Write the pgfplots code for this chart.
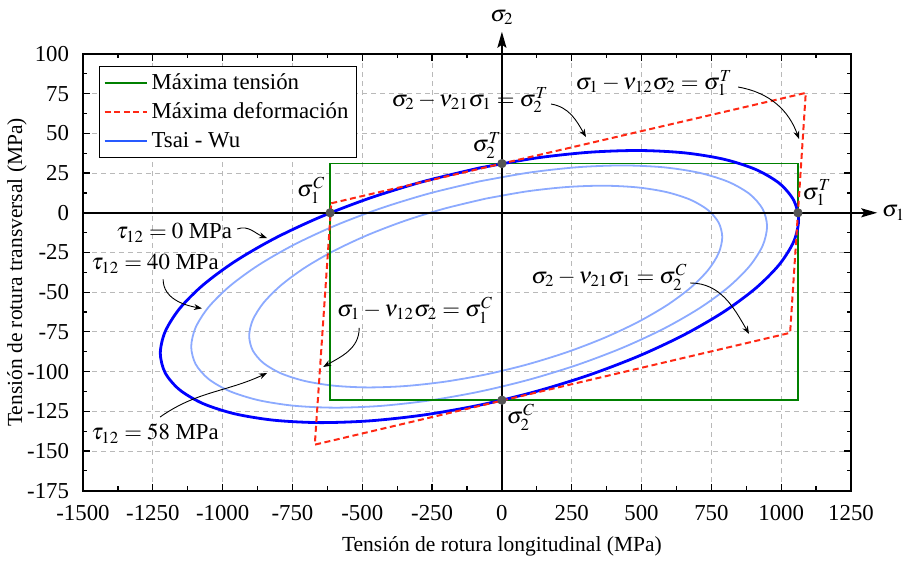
\documentclass[border=0pt]{standalone}
\usepackage{mathptmx}
\usepackage{fontspec}
\setmainfont{Liberation Serif}
\usepackage{pgfplots}
\pgfplotsset{compat=1.18}
\usetikzlibrary{arrows.meta}
\definecolor{cgreen}{RGB}{0,128,0}
\definecolor{cred}{RGB}{255,40,20}
\definecolor{cblue}{RGB}{0,0,255}
\definecolor{clblue}{RGB}{140,170,255}
\definecolor{clegblue}{RGB}{40,90,255}
\definecolor{cmark}{RGB}{85,85,85}
\definecolor{cgrid}{RGB}{185,185,185}
\begin{document}
\fontsize{11.4bp}{13.7bp}\selectfont
\begin{tikzpicture}
\begin{axis}[
  at={(0,0)}, anchor=south west,
  scale only axis, width=384bp, height=218.35bp,
  xmin=-1500, xmax=1250, ymin=-175, ymax=100,
  xtick={-1500,-1250,...,1250}, ytick={-175,-150,...,100},
  minor x tick num=1, minor y tick num=1,
  tick align=inside,
  major tick length=3.5bp, minor tick length=2.2bp,
  grid=major,
  major grid style={cgrid, dash pattern=on 2.5bp off 2bp, line width=0.45bp},
  axis line style={line width=0.8bp},
  tick style={black, line width=0.6bp},
  /pgf/number format/assume math mode=true,
  /pgf/number format/1000 sep={},
  yticklabel style={xshift=-3bp},
  xticklabel style={yshift=-3.5bp},
  clip=false,
  legend cell align=left,
  legend style={at={(0.0208,0.9732)}, anchor=north west, draw=black, line width=0.6bp,
    fill=white, inner xsep=2bp, inner ysep=1.5bp, row sep=1bp,
    font=\fontsize{11.4bp}{13.7bp}\selectfont},
  legend image code/.code={\draw[#1] (0bp,0bp) -- (21bp,0bp);},
]
\addlegendimage{cgreen, line width=0.9bp}
\addlegendentry{Máxima tensión}
\addlegendimage{cred, line width=1bp, dash pattern=on 3bp off 1.8bp}
\addlegendentry{Máxima deformación}
\addlegendimage{clegblue, line width=1bp}
\addlegendentry{Tsai - Wu}

% Tsai-Wu, tau12 = 40 MPa
\addplot[forget plot, smooth, clblue, line width=0.9bp] coordinates {
(-81.5,19.75) (-260.5,12.17) (-434.1,2.80) (-597.0,-8.06) (-744.2,-20.08) (-871.3,-32.91) (-974.4,-46.15) (-1050.3,-59.40) (-1096.8,-72.26) (-1112.5,-84.33) (-1096.8,-95.25) (-1050.3,-104.68) (-974.4,-112.35) (-871.3,-118.02) (-744.2,-121.51) (-597.0,-122.72) (-434.1,-121.61) (-260.5,-118.22) (-81.5,-112.65) (97.5,-105.07) (271.1,-95.70) (434.0,-84.84) (581.2,-72.82) (708.3,-59.99) (811.4,-46.75) (887.3,-33.50) (933.8,-20.65) (949.5,-8.57) (933.8,2.35) (887.3,11.78) (811.4,19.45) (708.3,25.12) (581.2,28.61) (434.0,29.82) (271.1,28.71) (97.5,25.32) (-81.5,19.75)
};
% Tsai-Wu, tau12 = 58 MPa
\addplot[forget plot, smooth, clblue, line width=0.9bp] coordinates {
(-58,8.92) (-205.1,2.68) (-347.7,-5.06) (-481.5,-14.06) (-602.4,-24.04) (-706.8,-34.70) (-791.5,-45.71) (-853.9,-56.75) (-892.1,-67.48) (-905.0,-77.57) (-892.1,-86.71) (-853.9,-94.63) (-791.5,-101.08) (-706.8,-105.88) (-602.4,-108.87) (-481.5,-109.96) (-347.7,-109.12) (-205.1,-106.38) (-58,-101.82) (89.1,-95.58) (231.7,-87.84) (365.5,-78.84) (486.4,-68.86) (590.8,-58.21) (675.5,-47.19) (737.9,-36.15) (776.1,-25.42) (789.0,-15.33) (776.1,-6.19) (737.9,1.73) (675.5,8.18) (590.8,12.98) (486.4,15.97) (365.5,17.06) (231.7,16.22) (89.1,13.48) (-58,8.92)
};
% Maxima tension
\addplot[forget plot, cgreen, line width=0.9bp, line join=miter] coordinates {
(-615,-118) (-615,31) (1060,31) (1060,-118) (-615,-118) (-615,31)
};
% Tsai-Wu, tau12 = 0
\addplot[forget plot, smooth, cblue, line width=1.4bp] coordinates {
(-80.4,28.23) (-278.9,19.81) (-471.3,9.37) (-651.8,-2.77) (-815.0,-16.23) (-955.8,-30.61) (-1070.1,-45.47) (-1154.3,-60.36) (-1205.8,-74.83) (-1223.2,-88.43) (-1205.8,-100.76) (-1154.3,-111.44) (-1070.1,-120.15) (-955.8,-126.62) (-815.0,-130.64) (-651.8,-132.12) (-471.3,-130.99) (-278.9,-127.29) (-80.4,-121.13) (118.0,-112.71) (310.5,-102.27) (491.0,-90.13) (654.2,-76.67) (795.0,-62.29) (909.3,-47.43) (993.5,-32.54) (1045.0,-18.07) (1062.4,-4.47) (1045.0,7.86) (993.5,18.54) (909.3,27.25) (795.0,33.72) (654.2,37.74) (491.0,39.22) (310.5,38.09) (118.0,34.39) (-80.4,28.23)
};
% Maxima deformacion
\addplot[forget plot, cred, line width=1bp, dash pattern=on 3bp off 1.8bp, line join=miter] coordinates {
(-611,6) (1088,75.5) (1032,-75.6) (-670,-146) (-611,6)
};

% coordinate axes
\draw[line width=0.8bp, -{Stealth[length=8bp,width=4.5bp,inset=1.5bp]}] (axis cs:-1500,0) -- (axis cs:1344,0)
  node[right=2bp, inner sep=0pt] {$\sigma_1$};
\draw[line width=0.8bp, -{Stealth[length=8bp,width=4.5bp,inset=1.5bp]}] (axis cs:0,-175) -- (axis cs:0,114)
  node[above=3bp, inner sep=0pt] {$\sigma_2$};

% strength points
\addplot[forget plot, only marks, mark=*, mark size=2.1bp, color=cmark] coordinates {
(-615,0) (0,31) (0,-118) (1060,0)
};
\node at (axis cs:-683,14.3) {$\sigma_1^C$};
\node at (axis cs:-53,42.6) {$\sigma_2^T$};
\node at (axis cs:1128,12.5) {$\sigma_1^T$};
\node at (axis cs:68,-128.6) {$\sigma_2^C$};

% annotations
\node at (axis cs:-114,71) {$\sigma_2-\nu_{21}\sigma_1=\sigma_2^T$};
\draw[line width=0.45bp, -{Stealth[length=4bp,width=3bp]}] (axis cs:176,68.5) to[out=-10,in=120] (axis cs:301,47.7);
\node at (axis cs:545,81.7) {$\sigma_1-\nu_{12}\sigma_2=\sigma_1^T$};
\draw[line width=0.45bp, -{Stealth[length=4bp,width=3bp]}] (axis cs:846,79.2) to[out=-10,in=110] (axis cs:1064,46.5);
\node at (axis cs:385,-40.4) {$\sigma_2-\nu_{21}\sigma_1=\sigma_2^C$};
\draw[line width=0.45bp, -{Stealth[length=4bp,width=3bp]}] (axis cs:674,-44.2) to[out=0,in=120] (axis cs:885,-76.3);
\node at (axis cs:-311,-61.2) {$\sigma_1-\nu_{12}\sigma_2=\sigma_1^C$};
\draw[line width=0.45bp, -{Stealth[length=4bp,width=3bp]}] (axis cs:-511,-72.5) to[out=-90,in=30] (axis cs:-640,-97.1);
\node at (axis cs:-1174,-12.7) {$\tau_{12}=0$ MPa};
\draw[line width=0.45bp, -{Stealth[length=4bp,width=3bp]}] (axis cs:-948,-10.2) to[out=20,in=160] (axis cs:-841,-15.9);
\node at (axis cs:-1242,-32.1) {$\tau_{12}=40$ MPa};
\draw[line width=0.45bp, -{Stealth[length=4bp,width=3bp]}] (axis cs:-1213,-41.9) to[out=-90,in=170] (axis cs:-1074,-60.2);
\node at (axis cs:-1242,-139.2) {$\tau_{12}=58$ MPa};
\draw[line width=0.45bp, -{Stealth[length=4bp,width=3bp]}] (axis cs:-1224,-128.6) to[out=35,in=205] (axis cs:-841,-100.9);

% axis labels
\node[anchor=base, font=\fontsize{10.75bp}{13bp}\selectfont] at ([yshift=-30.5bp]axis cs:0,-175) {Tensión de rotura longitudinal (MPa)};
\node[rotate=90, font=\fontsize{10.75bp}{13bp}\selectfont] at ([xshift=-33bp]rel axis cs:0,0.5) {Tensión de rotura transversal (MPa)};
\end{axis}
\pgfresetboundingbox
\path[use as bounding box] (-41.5bp,-35.65bp) rectangle (410.5bp,245.35bp);
\end{tikzpicture}
\end{document}
